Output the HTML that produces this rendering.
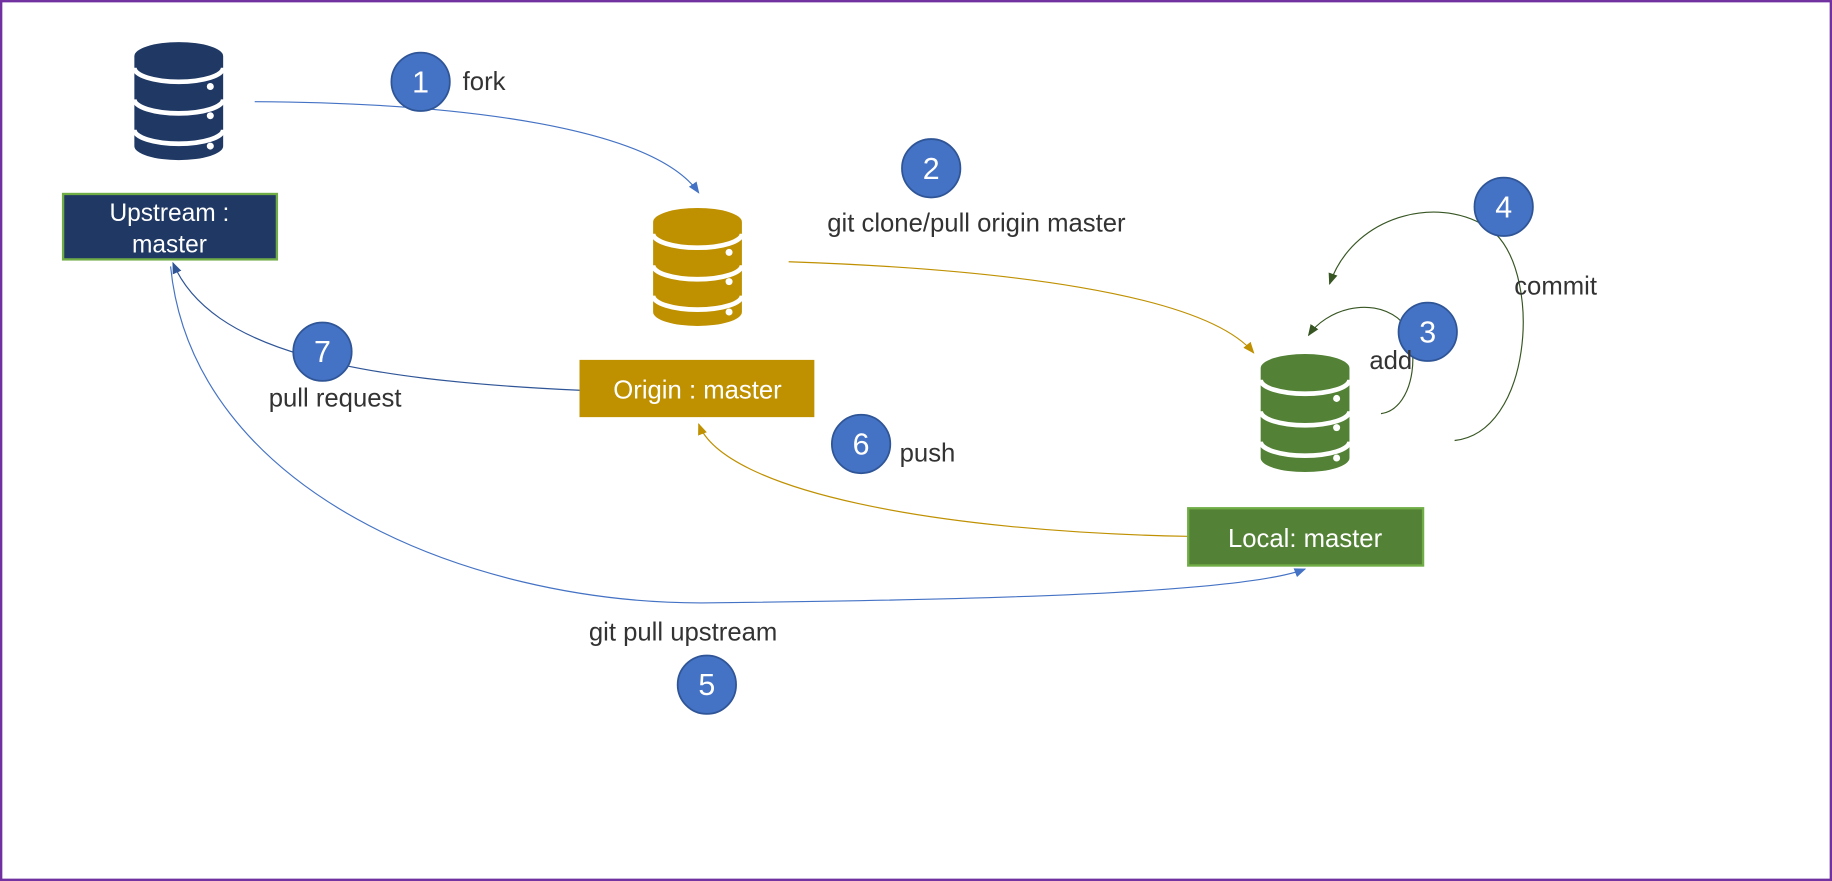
<!DOCTYPE html>
<html><head><meta charset="utf-8"><style>
html,body{margin:0;padding:0;background:#fff;}
svg{display:block;}
text{font-family:"Liberation Sans",sans-serif;}
</style></head><body>
<svg width="1832" height="881" viewBox="0 0 1568 754" xmlns="http://www.w3.org/2000/svg">
<defs>
<marker id="ab" markerWidth="10" markerHeight="10" refX="9" refY="5" orient="auto" markerUnits="userSpaceOnUse"><path d="M0,1 L10,5 L0,9 z" fill="#4472C4"/></marker>
<marker id="an" markerWidth="10" markerHeight="10" refX="9" refY="5" orient="auto" markerUnits="userSpaceOnUse"><path d="M0,1 L10,5 L0,9 z" fill="#2F5597"/></marker>
<marker id="ag" markerWidth="10" markerHeight="10" refX="9" refY="5" orient="auto" markerUnits="userSpaceOnUse"><path d="M0,1 L10,5 L0,9 z" fill="#BF9000"/></marker>
<marker id="ad" markerWidth="10" markerHeight="10" refX="9" refY="5" orient="auto" markerUnits="userSpaceOnUse"><path d="M0,1 L10,5 L0,9 z" fill="#375623"/></marker>
<g id="db">
<path d="M0,12 A38,12 0 0 1 76,12 L76,89 A38,12 0 0 1 0,89 Z"/>
<path d="M0,22 A38,12 0 0 0 76,22" fill="none" stroke="#fff" stroke-width="4"/>
<path d="M0,49 A38,12 0 0 0 76,49" fill="none" stroke="#fff" stroke-width="4"/>
<path d="M0,75 A38,12 0 0 0 76,75" fill="none" stroke="#fff" stroke-width="4"/>
<circle cx="65" cy="38" r="3" fill="#fff"/>
<circle cx="65" cy="63" r="3" fill="#fff"/>
<circle cx="65" cy="89" r="3" fill="#fff"/>
</g>
</defs>
<rect x="1" y="1" width="1566" height="752" fill="#fff" stroke="#7030A0" stroke-width="2"/>

<path d="M218,87 C400,88 560,110 598,165" fill="none" stroke="#4472C4" stroke-width="1" marker-end="url(#ab)"/>
<path d="M675,224 C850,230 1030,250 1073,302" fill="none" stroke="#BF9000" stroke-width="1" marker-end="url(#ag)"/>
<path d="M1245,377 C1310,370 1320,240 1280,200 C1240,165 1160,180 1138,243" fill="none" stroke="#375623" stroke-width="1" marker-end="url(#ad)"/>
<path d="M1182,354 C1212,350 1218,290 1196,272 C1172,254 1135,265 1120,287" fill="none" stroke="#375623" stroke-width="1" marker-end="url(#ad)"/>
<path d="M1016,459 C800,455 620,420 598,363" fill="none" stroke="#BF9000" stroke-width="1" marker-end="url(#ag)"/>
<path d="M496,334 C300,325 180,300 148,225" fill="none" stroke="#2F5597" stroke-width="1" marker-end="url(#an)"/>
<path d="M146,228 C165,420 400,516 600,516 C900,513 1070,505 1117,487" fill="none" stroke="#4472C4" stroke-width="1" marker-end="url(#ab)"/>

<use href="#db" x="115" y="36" fill="#1F3864"/>
<use href="#db" x="559" y="178" fill="#BF9000"/>
<use href="#db" x="1079" y="303" fill="#538135"/>

<rect x="54" y="166" width="183" height="56" fill="#1F3864" stroke="#70AD47" stroke-width="2"/>
<text x="145" y="189" fill="#fff" font-size="21" text-anchor="middle">Upstream :</text>
<text x="145" y="216" fill="#fff" font-size="21" text-anchor="middle">master</text>
<rect x="496" y="308" width="201" height="49" fill="#BF9000"/>
<text x="597" y="341" fill="#fff" font-size="22" text-anchor="middle">Origin : master</text>
<rect x="1017" y="435" width="201" height="49" fill="#538135" stroke="#70AD47" stroke-width="2"/>
<text x="1117" y="468" fill="#fff" font-size="22" text-anchor="middle">Local: master</text>

<g fill="#4472C4" stroke="#2F5597" stroke-width="1.5">
<circle cx="360" cy="70" r="25"/>
<circle cx="797" cy="144" r="25"/>
<circle cx="1222" cy="284" r="25"/>
<circle cx="1287" cy="177" r="25"/>
<circle cx="605" cy="586" r="25"/>
<circle cx="737" cy="380" r="25"/>
<circle cx="276" cy="301" r="25"/>
</g>
<g fill="#fff" font-size="26" text-anchor="middle">
<text x="360" y="79">1</text>
<text x="797" y="153">2</text>
<text x="1222" y="293">3</text>
<text x="1287" y="186">4</text>
<text x="605" y="595">5</text>
<text x="737" y="389">6</text>
<text x="276" y="310">7</text>
</g>

<g fill="#333" font-size="22">
<text x="396" y="77">fork</text>
<text x="708" y="198">git clone/pull origin master</text>
<text x="1296" y="252">commit</text>
<text x="1172" y="316">add</text>
<text x="770" y="395">push</text>
<text x="230" y="348">pull request</text>
<text x="504" y="548">git pull upstream</text>
</g>
</svg>
</body></html>
